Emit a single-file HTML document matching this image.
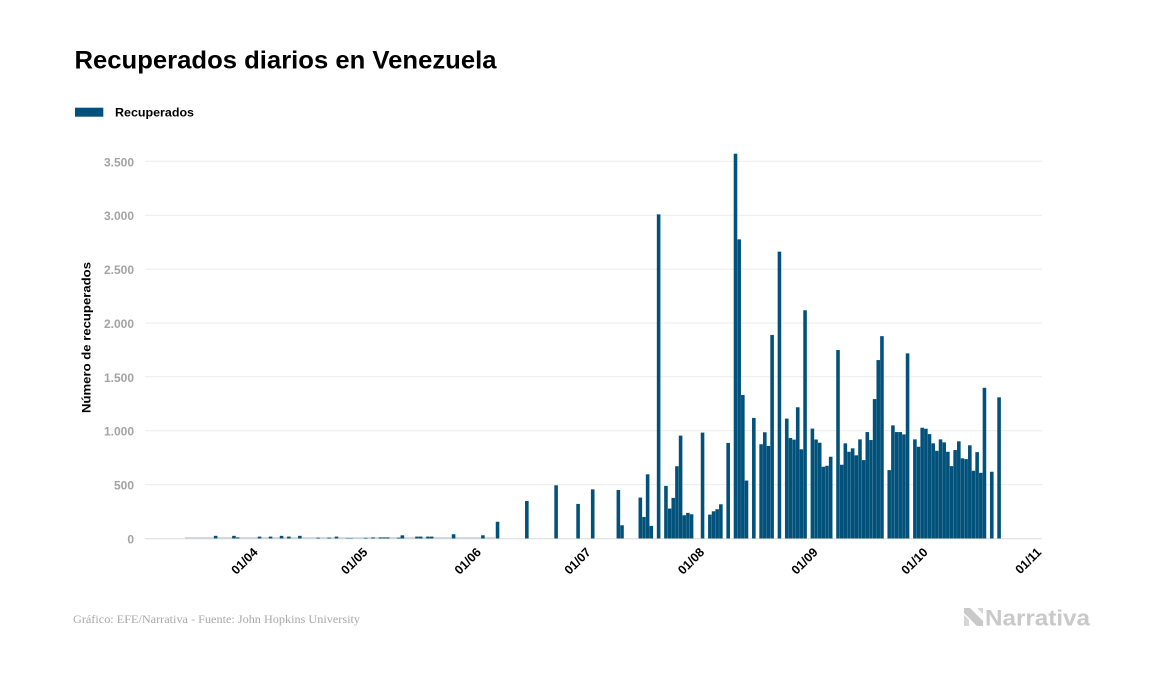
<!DOCTYPE html>
<html>
<head>
<meta charset="utf-8">
<style>
html,body{margin:0;padding:0;background:#fff;}
svg{display:block;}
text{font-family:"Liberation Sans",sans-serif;}
</style>
</head>
<body>
<svg width="1157" height="674" viewBox="0 0 1157 674" xmlns="http://www.w3.org/2000/svg">
<rect width="1157" height="674" fill="#fff"/>
<text x="74.5" y="68.3" font-size="25" font-weight="bold" fill="#000" textLength="422" lengthAdjust="spacingAndGlyphs">Recuperados diarios en Venezuela</text>
<rect x="75" y="107.7" width="28.3" height="9" fill="#01517a"/>
<text x="115" y="116.5" font-size="12" font-weight="bold" fill="#000" textLength="79" lengthAdjust="spacingAndGlyphs">Recuperados</text>

<g stroke="#ebebeb" stroke-width="1">
<line x1="145" x2="1042" y1="161.3" y2="161.3"/>
<line x1="145" x2="1042" y1="215.2" y2="215.2"/>
<line x1="145" x2="1042" y1="269.1" y2="269.1"/>
<line x1="145" x2="1042" y1="323.0" y2="323.0"/>
<line x1="145" x2="1042" y1="376.8" y2="376.8"/>
<line x1="145" x2="1042" y1="430.7" y2="430.7"/>
<line x1="145" x2="1042" y1="484.6" y2="484.6"/>
</g>
<line x1="145" x2="1042" y1="538.8" y2="538.8" stroke="#dcdcdc" stroke-width="1"/>

<g font-size="12" font-weight="bold" fill="#a3a3a3" text-anchor="end">
<text x="134" y="166.3">3.500</text>
<text x="134" y="220.2">3.000</text>
<text x="134" y="274.1">2.500</text>
<text x="134" y="328.0">2.000</text>
<text x="134" y="381.8">1.500</text>
<text x="134" y="435.7">1.000</text>
<text x="134" y="489.6">500</text>
<text x="134" y="543.5">0</text>
</g>
<text transform="translate(90.5,337.5) rotate(-90)" text-anchor="middle" font-size="12" font-weight="bold" fill="#000" textLength="151" lengthAdjust="spacingAndGlyphs">Número de recuperados</text>

<rect x="185" y="537.3" width="310" height="1.2" fill="#bccdd8"/>

<g transform="translate(0,538.5) scale(1,-1)" fill="#01517a" stroke="#ffffff" stroke-opacity="0.25" stroke-width="0.3">
<rect x="213.81" y="0" width="3.661" height="2.69"/>
<rect x="232.11" y="0" width="3.661" height="2.69"/>
<rect x="235.78" y="0" width="3.661" height="1.08"/>
<rect x="257.74" y="0" width="3.661" height="1.94"/>
<rect x="268.72" y="0" width="3.661" height="1.94"/>
<rect x="279.71" y="0" width="3.661" height="2.69"/>
<rect x="287.03" y="0" width="3.661" height="1.94"/>
<rect x="298.01" y="0" width="3.661" height="2.69"/>
<rect x="316.32" y="0" width="3.661" height="0.86"/>
<rect x="327.30" y="0" width="3.661" height="0.86"/>
<rect x="334.62" y="0" width="3.661" height="1.94"/>
<rect x="345.61" y="0" width="3.661" height="0.43"/>
<rect x="349.27" y="0" width="3.661" height="0.43"/>
<rect x="363.91" y="0" width="3.661" height="0.65"/>
<rect x="371.23" y="0" width="3.661" height="1.08"/>
<rect x="378.55" y="0" width="3.661" height="1.08"/>
<rect x="382.22" y="0" width="3.661" height="1.08"/>
<rect x="385.88" y="0" width="3.661" height="1.08"/>
<rect x="396.86" y="0" width="3.661" height="0.86"/>
<rect x="400.52" y="0" width="3.661" height="3.23"/>
<rect x="415.16" y="0" width="3.661" height="1.94"/>
<rect x="418.83" y="0" width="3.661" height="1.94"/>
<rect x="426.15" y="0" width="3.661" height="1.94"/>
<rect x="429.81" y="0" width="3.661" height="1.94"/>
<rect x="451.77" y="0" width="3.661" height="4.31"/>
<rect x="481.06" y="0" width="3.661" height="3.23"/>
<rect x="495.71" y="0" width="3.661" height="16.81"/>
<rect x="525.00" y="0" width="3.661" height="37.50"/>
<rect x="554.28" y="0" width="3.661" height="53.24"/>
<rect x="576.25" y="0" width="3.661" height="34.59"/>
<rect x="590.89" y="0" width="3.661" height="49.14"/>
<rect x="616.52" y="0" width="3.661" height="48.50"/>
<rect x="620.18" y="0" width="3.661" height="13.26"/>
<rect x="638.49" y="0" width="3.661" height="40.95"/>
<rect x="642.15" y="0" width="3.661" height="21.55"/>
<rect x="645.81" y="0" width="3.661" height="64.23"/>
<rect x="649.47" y="0" width="3.661" height="12.61"/>
<rect x="656.79" y="0" width="3.661" height="324.17"/>
<rect x="664.11" y="0" width="3.661" height="52.59"/>
<rect x="667.77" y="0" width="3.661" height="29.96"/>
<rect x="671.43" y="0" width="3.661" height="40.63"/>
<rect x="675.10" y="0" width="3.661" height="72.31"/>
<rect x="678.76" y="0" width="3.661" height="102.92"/>
<rect x="682.42" y="0" width="3.661" height="23.28"/>
<rect x="686.08" y="0" width="3.661" height="25.65"/>
<rect x="689.74" y="0" width="3.661" height="24.25"/>
<rect x="700.72" y="0" width="3.661" height="105.94"/>
<rect x="708.04" y="0" width="3.661" height="23.92"/>
<rect x="711.71" y="0" width="3.661" height="27.27"/>
<rect x="715.37" y="0" width="3.661" height="29.31"/>
<rect x="719.03" y="0" width="3.661" height="34.27"/>
<rect x="726.35" y="0" width="3.661" height="95.59"/>
<rect x="733.67" y="0" width="3.661" height="384.85"/>
<rect x="737.33" y="0" width="3.661" height="299.17"/>
<rect x="740.99" y="0" width="3.661" height="143.55"/>
<rect x="744.65" y="0" width="3.661" height="57.98"/>
<rect x="751.98" y="0" width="3.661" height="120.59"/>
<rect x="759.30" y="0" width="3.661" height="94.30"/>
<rect x="762.96" y="0" width="3.661" height="106.26"/>
<rect x="766.62" y="0" width="3.661" height="92.57"/>
<rect x="770.28" y="0" width="3.661" height="203.58"/>
<rect x="777.60" y="0" width="3.661" height="286.88"/>
<rect x="784.93" y="0" width="3.661" height="119.95"/>
<rect x="788.59" y="0" width="3.661" height="100.55"/>
<rect x="792.25" y="0" width="3.661" height="98.93"/>
<rect x="795.91" y="0" width="3.661" height="131.26"/>
<rect x="799.57" y="0" width="3.661" height="89.23"/>
<rect x="803.23" y="0" width="3.661" height="228.26"/>
<rect x="810.55" y="0" width="3.661" height="109.93"/>
<rect x="814.21" y="0" width="3.661" height="99.04"/>
<rect x="817.87" y="0" width="3.661" height="95.81"/>
<rect x="821.54" y="0" width="3.661" height="71.78"/>
<rect x="825.20" y="0" width="3.661" height="72.74"/>
<rect x="828.86" y="0" width="3.661" height="81.80"/>
<rect x="836.18" y="0" width="3.661" height="188.49"/>
<rect x="839.84" y="0" width="3.661" height="73.82"/>
<rect x="843.50" y="0" width="3.661" height="95.16"/>
<rect x="847.16" y="0" width="3.661" height="86.75"/>
<rect x="850.82" y="0" width="3.661" height="90.20"/>
<rect x="854.48" y="0" width="3.661" height="83.20"/>
<rect x="858.15" y="0" width="3.661" height="99.15"/>
<rect x="861.81" y="0" width="3.661" height="78.46"/>
<rect x="865.47" y="0" width="3.661" height="106.48"/>
<rect x="869.13" y="0" width="3.661" height="98.50"/>
<rect x="872.79" y="0" width="3.661" height="139.45"/>
<rect x="876.45" y="0" width="3.661" height="178.47"/>
<rect x="880.11" y="0" width="3.661" height="202.39"/>
<rect x="887.43" y="0" width="3.661" height="68.43"/>
<rect x="891.09" y="0" width="3.661" height="113.16"/>
<rect x="894.76" y="0" width="3.661" height="106.48"/>
<rect x="898.42" y="0" width="3.661" height="106.48"/>
<rect x="902.08" y="0" width="3.661" height="104.11"/>
<rect x="905.74" y="0" width="3.661" height="185.15"/>
<rect x="913.06" y="0" width="3.661" height="99.15"/>
<rect x="916.72" y="0" width="3.661" height="91.82"/>
<rect x="920.38" y="0" width="3.661" height="110.79"/>
<rect x="924.04" y="0" width="3.661" height="109.82"/>
<rect x="927.70" y="0" width="3.661" height="104.43"/>
<rect x="931.37" y="0" width="3.661" height="95.16"/>
<rect x="935.03" y="0" width="3.661" height="87.72"/>
<rect x="938.69" y="0" width="3.661" height="99.15"/>
<rect x="942.35" y="0" width="3.661" height="96.13"/>
<rect x="946.01" y="0" width="3.661" height="86.75"/>
<rect x="949.67" y="0" width="3.661" height="72.42"/>
<rect x="953.33" y="0" width="3.661" height="88.48"/>
<rect x="956.99" y="0" width="3.661" height="97.21"/>
<rect x="960.65" y="0" width="3.661" height="80.18"/>
<rect x="964.31" y="0" width="3.661" height="79.43"/>
<rect x="967.98" y="0" width="3.661" height="93.22"/>
<rect x="971.64" y="0" width="3.661" height="67.79"/>
<rect x="975.30" y="0" width="3.661" height="86.43"/>
<rect x="978.96" y="0" width="3.661" height="65.74"/>
<rect x="982.62" y="0" width="3.661" height="150.77"/>
<rect x="989.94" y="0" width="3.661" height="66.82"/>
<rect x="997.26" y="0" width="3.661" height="141.18"/>
</g>

<g font-size="12.5" font-weight="bold" fill="#000" text-anchor="end">
<text transform="translate(258.5,553) rotate(-45)">01/04</text>
<text transform="translate(368.3,553) rotate(-45)">01/05</text>
<text transform="translate(481.8,553) rotate(-45)">01/06</text>
<text transform="translate(591.6,553) rotate(-45)">01/07</text>
<text transform="translate(705.1,553) rotate(-45)">01/08</text>
<text transform="translate(818.6,553) rotate(-45)">01/09</text>
<text transform="translate(928.5,553) rotate(-45)">01/10</text>
<text transform="translate(1042,553) rotate(-45)">01/11</text>
</g>

<text x="73" y="623" font-size="12" fill="#a8a8a8" textLength="287" lengthAdjust="spacingAndGlyphs" style="font-family:'Liberation Serif',serif">Gráfico: EFE/Narrativa - Fuente: John Hopkins University</text>

<g fill="#c9c9c9">
<polygon points="964,608 970,608 983,621 983,626 977,626 964,613"/>
<polygon points="964,615 969,620 969,626 964,626" fill="#d6d6d6"/>
<polygon points="978,608 983,608 983,614 978,609" fill="#d6d6d6"/>
</g>
<text x="985" y="625.5" font-size="22.5" font-weight="bold" fill="#c9c9c9" textLength="105" lengthAdjust="spacingAndGlyphs">Narrativa</text>
</svg>
</body>
</html>
